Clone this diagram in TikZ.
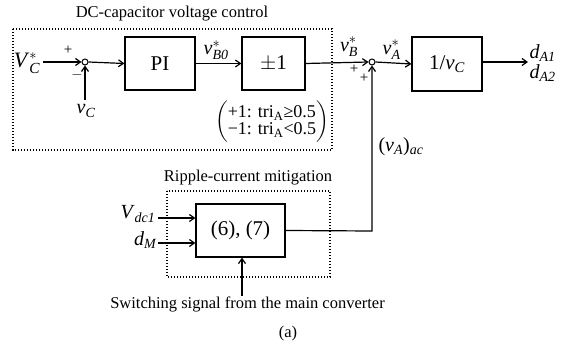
\documentclass[tikz,border=0pt]{standalone}
\usepackage{amsmath}
\usepackage{fontspec}
\setmainfont{Liberation Serif}
\usetikzlibrary{arrows.meta}
\newcommand{\iv}[1]{\textit{#1}}
\begin{document}
\begin{tikzpicture}[x=1pt,y=-1pt,line width=1.2pt,
  >={Straight Barb[length=5pt,width=7pt,line width=1.2pt]},
  blk/.style={draw,inner sep=0pt,font=\fontsize{21}{24}\selectfont},
  sumpt/.style={draw,circle,inner sep=0pt,minimum size=6pt,line width=1pt},
  grp/.style={draw,line width=1.4pt,dash pattern=on 1.4pt off 1.6pt},
  lbl/.style={inner sep=0pt,font=\fontsize{20}{22}\selectfont},
  ttl/.style={inner sep=0pt,font=\fontsize{16.5}{19}\selectfont},
  pm/.style={inner sep=0pt,font=\fontsize{15}{16}\selectfont}]
\useasboundingbox (0,0) rectangle (576,347);

% group boxes
\draw[grp] (13,29) rectangle (332,150);
\draw[grp] (167,191) rectangle (330,277);
\node[ttl] (t1) at (172,14) {DC-capacitor voltage control};
\node[ttl] (t2) at (248,178) {Ripple-current mitigation};

% blocks
\node[blk,minimum width=70pt,minimum height=53pt] (pi) at (160,63.5) {PI};
\node[blk,minimum width=63pt,minimum height=53pt] (pmb) at (273.5,63.5) {$\pm$1};
\node[blk,minimum width=70pt,minimum height=54pt] (inv) at (447,64) {1/\iv{v}$_{\iv{C}}$};
\node[blk,minimum width=89pt,minimum height=53pt] (rc) at (240.5,230.5) {(6), (7)};

% summing points
\node[sumpt] (s1) at (85,62) {};
\node[sumpt] (s2) at (372,62) {};

% inputs
\node[lbl,font=\fontsize{22}{24}\selectfont] (vcs) at (27,63) {\iv{V}$_{\iv{C}}^{*}$};
\node[lbl] (vc) at (86,111) {\iv{v}$_{\iv{C}}$};
\coordinate (vct) at (85,100);
\coordinate (a0) at (43,62);
\draw[->] (a0) -- (s1.west);
\draw[->] (vct) -- (s1.south);
\node[pm] (p1) at (68,50) {+};
\node[pm] (m1) at (77,75) {$-$};

\draw[->] (s1.east) -- (pi.west);
\draw[->] (pi.east) -- (pmb.west) node[lbl,pos=0.45,above=3pt] (vb0) {\iv{v}$_{\iv{B0}}^{*}$};
\draw[->] (pmb.east) -- (s2.west);
\node[lbl] (vbs) at (349,47) {\iv{v}$_{\iv{B}}^{*}$};
\node[pm] (p2) at (354,69) {+};
\node[pm] (p3) at (364,78) {+};
\draw[->] (s2.east) -- (inv.west) node[lbl,pos=0.45,above=3pt] (vas) {\iv{v}$_{\iv{A}}^{*}$};
\coordinate (out) at (528,62);
\draw[->] (inv.east |- out) -- (out);
\node[lbl,anchor=west] (d1) at (529,53) {\iv{d}$_{\iv{A1}}$};
\node[lbl,anchor=west] (d2) at (529,73) {\iv{d}$_{\iv{A2}}$};

% hysteresis description
\node[inner sep=0pt,font=\fontsize{18}{20}\selectfont] (cond) at (272,122)
  {$\left(\begin{array}{@{}l@{}}\text{+1: tri}_{\text{A}}\text{≥0.5}\\[-3pt] \text{−1: tri}_{\text{A}}\text{<0.5}\end{array}\right)$};

% ripple mitigation
\coordinate (c1) at (372,231);
\draw[->] (rc.east) -- (c1) -- (s2.south);
\node[lbl] (vaac) at (401,147) {(\iv{v}$_{\iv{A}}$)$_{\iv{ac}}$};
\node[lbl,anchor=east] (vdc) at (156,214) {\iv{V}$_{\iv{dc1}}$};
\node[lbl,anchor=east] (dm) at (157,240) {\iv{d}$_{\iv{M}}$};
\coordinate (i1) at (158,218);
\coordinate (i2) at (158,243);
\draw[->] (i1) -- (i1 -| rc.west);
\draw[->] (i2) -- (i2 -| rc.west);
\node[ttl] (sw) at (247.5,304) {Switching signal from the main converter};
\coordinate (swt) at (242,296);
\draw[->] (swt) -- (swt |- rc.south);
\node[ttl] (cap) at (288,334) {(a)};
\end{tikzpicture}
\end{document}
